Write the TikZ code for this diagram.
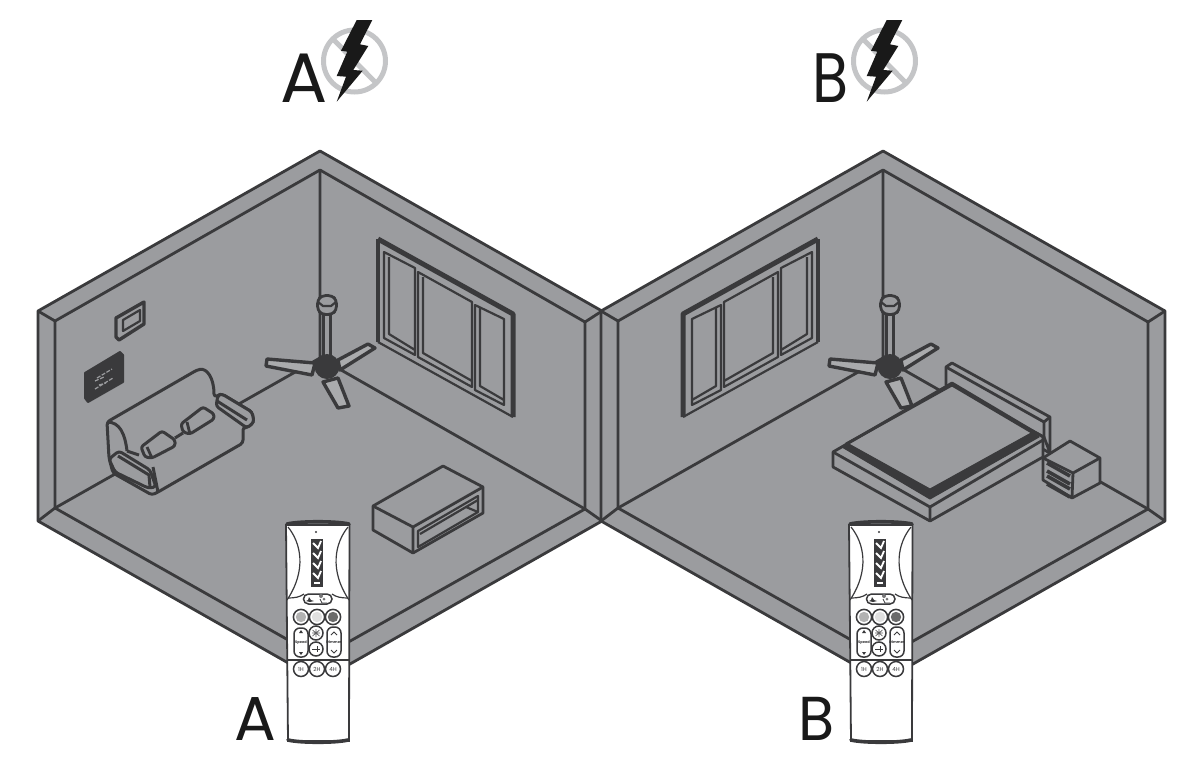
\documentclass[tikz,border=0pt]{standalone}
\usepackage{fontspec}
\setmainfont{Poppins}
\definecolor{wallgray}{HTML}{9B9C9F}
\definecolor{inkdark}{HTML}{3A3A3C}
\definecolor{signgray}{HTML}{C4C5C7}
\tikzset{
  roomline/.style={draw=inkdark,line width=2.8pt,line join=round},
  thinline/.style={draw=inkdark,line width=2.2pt,line join=round},
  thickline/.style={draw=inkdark,line width=4pt,line join=round},
  furn/.style={roomline,fill=wallgray},
  blade/.style={draw=inkdark,line width=3.4pt,fill=wallgray!85!white,line join=round},
  remotebtn/.style={draw=inkdark,line width=1.5pt,fill=white},
  letter/.style={inner sep=0pt,anchor=base west,text=black!90},
  tiny/.style={inner sep=0pt,font=\bfseries\fontsize{3.6}{4}\selectfont,text=inkdark},
  hourtext/.style={inner sep=0pt,font=\fontsize{5.6}{6}\selectfont,text=inkdark}
}
\begin{document}
\begin{tikzpicture}[x=1pt,y=-1pt]
\useasboundingbox (0,0) rectangle (1187,761);
% rooms
\foreach \dx in {0,563}{
\begin{scope}[xshift=\dx pt]
\draw[roomline,fill=wallgray] (320,151)--(602,311)--(602,521)--(320,681)--(38,521)--(38,311)--cycle;
\draw[roomline] (38,311)--(55,321)--(320,170)--(585,322)--(602,311);
\draw[roomline] (55,321)--(55,508)--(320,658)--(585,509)--(585,322);
\draw[roomline] (38,521)--(55,508) (602,521)--(585,509);
\draw[roomline] (320,170)--(320,358) (55,508)--(320,358)--(585,509);
\end{scope}
}
% windows
\foreach \xs/\sc in {0/1,1196/-1}{
\begin{scope}[xshift=\xs pt,xscale=\sc]
\draw[thinline] (378,342)--(513,417);
\draw[thickline] (378,342)--(378,239);
\draw[draw=inkdark,line width=5pt,line join=round] (378,239)--(513,314)--(513,417);
\draw[thinline] (384,252)--(415,268)--(415,355)--(384,338)--cycle (389,257)--(389,334)--(415,350);
\draw[thinline] (418,272)--(472,302)--(472,387)--(418,357)--cycle (423,277)--(423,353)--(472,381);
\draw[thinline] (475,305)--(504,319)--(504,405)--(475,390)--cycle (480,308)--(480,386)--(504,400);
\end{scope}
}
% pictures on the wall
\draw[draw=inkdark,line width=3.4pt,line join=round] (116,318)--(144,302)--(144,324)--(119,340)--(116,337)--cycle;
\draw[thinline] (123,320)--(140,310)--(140,321)--(123,331)--cycle;
\draw[draw=inkdark,fill=inkdark,line width=2pt,line join=round] (85,373)--(120,352)--(123,355)--(123,382)--(88,402)--(85,398)--cycle;
\draw[wallgray,line width=1.2pt,dashed,dash pattern=on 4pt off 1.5pt] (97,378)--(112,369) (95,389)--(113,378) (95,381)--(104,377) (99,385)--(106,383);
% sofa
\draw[furn,line width=3pt,rounded corners=3pt] (107,422)--(197,370) .. controls (207,368) and (214,378) .. (214,397)--(222,394)--(252,412)--(254,422)--(247,428)--(243,427)--(243,443)--(158,492)--(152,495)--(113,473)--(109,458)--cycle;
\draw[roomline,line width=3pt] (107,422) .. controls (120,422) and (125,434) .. (127,451);
\draw[furn,line width=3pt,rounded corners=3pt] (109,459)--(119,451)--(150,470)--(156,487)--(148,488)--(115,472)--cycle;
\draw[roomline,line width=3pt] (118,456)--(149,475)--(150,487) (153,467)--(158,492);
\draw[furn,line width=3pt,rounded corners=3pt] (218,395)--(222,394)--(252,412)--(254,422)--(247,428)--(216,406)--cycle;
\draw[roomline,line width=3pt] (217,401)--(247,420);
\draw[roomline,line width=3pt] (127,451)--(139,455) (175,438)--(183,433);
\draw[furn,line width=3pt,rounded corners=2.5pt] (141,447)--(162,431)--(175,440)--(175,446)--(152,458)--(145,457)--cycle;
\draw[roomline] (147,447)--(152,458);
\draw[furn,line width=3pt,rounded corners=2.5pt] (181,424)--(203,407)--(214,414)--(214,419)--(190,434)--(183,432)--cycle;
\draw[roomline] (187,422)--(190,434);
% table
\draw[furn] (373,506)--(443,466)--(483,487)--(483,513)--(413,553)--(373,530)--cycle;
\draw[roomline] (373,506)--(413,527)--(483,487) (413,527)--(413,553);
\draw[thinline] (418,531)--(478,496)--(478,512)--(418,547)--cycle;
\draw[thinline] (420,534)--(466,507)--(478,512) (466,507)--(478,500);
% bed
\draw[furn] (946,367)--(952,363)--(1050,417)--(1050,453)--(1044,437)--(946,385)--cycle;
\draw[roomline] (946,367)--(1044,422)--(1044,437) (1044,422)--(1050,417);
\draw[furn] (833,452)--(952,383)--(1043,437)--(1043,457)--(930,521)--(833,467)--cycle;
\draw[roomline] (833,452)--(930,507)--(1043,440) (930,507)--(930,521);
\draw[draw=inkdark,fill=inkdark,line width=1pt,line join=round] (842,447)--(847,443)--(930,489)--(1033,432)--(1039,437)--(930,499)--cycle;
\draw[roomline] (846,444)--(952,385)--(1035,434);
% nightstand
\draw[furn] (1043,458)--(1070,441)--(1100,458)--(1100,483)--(1072,498)--(1043,480)--cycle;
\draw[roomline] (1043,458)--(1073,473)--(1100,458) (1073,473)--(1072,498);
\draw[draw=inkdark,line width=3.6pt] (1047,463)--(1070,476) (1047,476)--(1070,489);
\draw[draw=inkdark,line width=3.6pt] (1047,471)--(1070,484) (1047,484)--(1070,497);
% fans
\foreach \dx in {0,563}{
\begin{scope}[xshift=\dx pt]
\draw[blade] (338,360)--(368,344)--(375,348)--(340,370)--cycle;
\draw[blade] (315,363)--(267,359)--(266,366)--(312,375)--cycle;
\draw[blade] (323,382)--(338,408)--(349,406)--(338,378)--cycle;
\draw[draw=inkdark,line width=2.6pt,fill=wallgray] (323.5,312) rectangle (330.5,358);
\draw[furn,rounded corners=4pt] (317.5,300)--(317.5,310)--(322,314.5)--(332,314.5)--(336.5,310)--(336.5,300)--(332,295.5)--(322,295.5)--cycle;
\draw[thinline] (318,302)--(323,306)--(331,306)--(336,302);
\fill[inkdark] (327,366.5) circle (12.5);
\end{scope}
}
% remotes
\foreach \dx in {0,563}{
\begin{scope}[xshift=\dx pt]
\draw[draw=inkdark,fill=white,line width=1.8pt] (286,525)--(288,741)--(349,741)--(349.5,525)--cycle;
\draw[draw=inkdark,line width=3.6pt,line cap=round] (287,524) .. controls (300,521) and (336,521) .. (349,524);
\draw[draw=inkdark,line width=3.6pt,line cap=round] (288,740) .. controls (300,743) and (336,743) .. (348,740);
\draw[draw=inkdark,line width=1.2pt] (288,527) .. controls (301,543) and (307,570) .. (287,600);
\draw[draw=inkdark,line width=1.2pt] (348,527) .. controls (335,543) and (329,570) .. (349,600);
\draw[draw=inkdark,line width=1.2pt] (288,598) .. controls (295,598) and (300,597) .. (304,594);
\draw[draw=inkdark,line width=1.2pt] (348,598) .. controls (341,598) and (336,597) .. (332,594);
\fill[inkdark] (316,532) circle (1.1);
\fill[inkdark] (311,539) rectangle (323,587);
\foreach \yy in {544,554,564,574}{
\draw[white,line width=1.8pt] (313,\yy-1)--(318,\yy+4)--(321,\yy-3);
}
\draw[white,line width=1.8pt] (314,583)--(320,583);
\draw[remotebtn,rounded corners=5pt] (303.5,594) rectangle (332,604);
\fill[inkdark] (309,597)--(311,600)--(314,601)--(310,602)--(306,601)--(308,600)--cycle;
\fill[inkdark!70] (321,596) circle (2) (324,599) circle (1.5);
\draw[inkdark,line width=.8pt] (320,599)--(322,603)--(327,603);
\draw[remotebtn] (301,617) circle (7.6);
\draw[remotebtn] (317,617) circle (7.6);
\draw[remotebtn] (333,617) circle (7.6);
\fill[black!30] (301,617) circle (5.2);
\fill[black!12] (317,617) circle (5.2);
\fill[black!58] (333,617) circle (5.2);
\draw[remotebtn,rounded corners=6pt] (294,628) rectangle (308,657);
\draw[remotebtn,rounded corners=6pt] (327,627) rectangle (341,657);
\draw[remotebtn] (316,633) circle (7);
\draw[remotebtn] (316,649) circle (7);
\draw[inkdark!80,line width=.7pt] (312.5,630)--(319.5,636) (312.5,636)--(319.5,630) (316,629)--(316,637) (312,633)--(320,633);
\draw[inkdark,line width=.8pt] (312,649)--(320,649) (317,646)--(317,652);
\fill[inkdark] (299,633)--(303,633)--(301,630)--cycle (299,652)--(303,652)--(301,655)--cycle;
\draw[inkdark,line width=.9pt] (331,635)--(334,632)--(337,635) (331,650)--(334,653)--(337,650);
\draw[draw=inkdark,line width=1.8pt] (287,660)--(349,660);
\draw[remotebtn] (301,669) circle (7.5);
\draw[remotebtn] (317,669) circle (7.5);
\draw[remotebtn] (333,669) circle (7.5);
\end{scope}
}
\node[tiny] (speedA) at (301,642.5) {Speed};
\node[tiny] (dimmerA) at (334,642.5) {Dimmer};
\node[hourtext] (oneA) at (301,669) {1H};
\node[hourtext] (twoA) at (317,669) {2H};
\node[hourtext] (fourA) at (333,669) {4H};
\node[tiny] (speedB) at (864,642.5) {Speed};
\node[tiny] (dimmerB) at (897,642.5) {Dimmer};
\node[hourtext] (oneB) at (864,669) {1H};
\node[hourtext] (twoB) at (880,669) {2H};
\node[hourtext] (fourB) at (896,669) {4H};
% signs
\foreach \dx in {0,530}{
\begin{scope}[xshift=\dx pt]
\draw[signgray,line width=5pt] (354.5,61) circle (31);
\draw[signgray,line width=5pt] (333,39)--(376,83);
\fill[black!90] (356.7,20)--(372.3,20)--(360,44.3)--(368.3,46)--(353.3,70)--(362.7,70.7)--(336.7,101.7)--(346,76.7)--(336.7,76)--(347.3,51.7)--(341,50.7)--cycle;
\end{scope}
}
% letters
\node[letter,font=\fontsize{70}{70}\selectfont] (topA) at (280,102) {A};
\node[letter,font=\fontsize{70}{70}\selectfont,xscale=.84] (topB) at (812,102) {B};
\node[letter,font=\fontsize{62}{62}\selectfont] (lowA) at (234,740) {A};
\node[letter,font=\fontsize{62}{62}\selectfont,xscale=.95] (lowB) at (798,740) {B};
\end{tikzpicture}
\end{document}
